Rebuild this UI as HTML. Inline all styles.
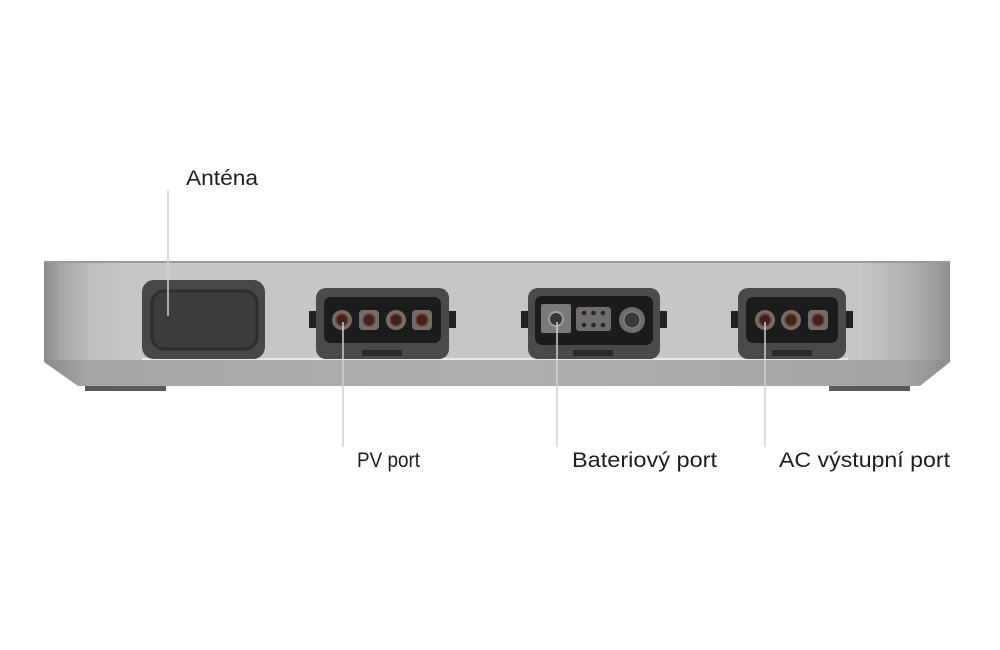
<!DOCTYPE html>
<html><head><meta charset="utf-8"><style>
html,body{margin:0;padding:0;background:#fff;}
svg{display:block}
text{font-family:"Liberation Sans","DejaVu Sans",sans-serif;fill:#1e1e1e;}
</style></head><body>
<svg width="1000" height="650" viewBox="0 0 1000 650" xmlns="http://www.w3.org/2000/svg">
<defs>
<linearGradient id="body" x1="0" x2="1" y1="0" y2="0">
<stop offset="0" stop-color="#8a8a8a"/><stop offset="0.02" stop-color="#a8a8a8"/><stop offset="0.05" stop-color="#bdbdbd"/><stop offset="0.09" stop-color="#c6c6c6"/>
<stop offset="0.9" stop-color="#c6c6c6"/><stop offset="0.95" stop-color="#b4b4b4"/><stop offset="0.98" stop-color="#a0a0a0"/><stop offset="1" stop-color="#8e8e8e"/>
</linearGradient>
<linearGradient id="low" x1="0" x2="1" y1="0" y2="0">
<stop offset="0" stop-color="#8a8a8a"/><stop offset="0.05" stop-color="#a6a6a6"/><stop offset="0.5" stop-color="#b0b0b0"/><stop offset="0.95" stop-color="#a4a4a4"/><stop offset="1" stop-color="#8c8c8c"/>
</linearGradient>
</defs>
<!-- feet -->
<rect x="85" y="383" width="81" height="8" fill="#5a5a5a"/>
<rect x="829" y="383" width="81" height="8" fill="#5a5a5a"/>
<!-- body -->
<path d="M44 262 H950 V362 L920 386 H78 L44 362 Z" fill="url(#low)"/>
<rect x="44" y="262" width="906" height="98" fill="url(#body)"/>
<rect x="44" y="261" width="906" height="2" fill="#9a9a9a"/>
<rect x="142" y="358" width="706" height="2" fill="#e8e8e8"/>
<!-- antenna -->
<rect x="142" y="280" width="123" height="79" rx="12" fill="#474747"/>
<rect x="152" y="291" width="105" height="58" rx="12" fill="#3d3d3d" stroke="#2e2e2e" stroke-width="3"/>
<!-- PV -->
<rect x="309" y="311" width="8" height="17" fill="#222"/><rect x="448" y="311" width="8" height="17" fill="#222"/>
<rect x="316" y="288" width="133" height="71" rx="10" fill="#4a4a4a"/>
<rect x="324" y="297" width="117" height="46" rx="7" fill="#1c1c1c"/>
<rect x="362" y="350" width="40" height="6" fill="#2a2a2a"/>
<circle cx="342" cy="320" r="10" fill="#6e6e6e"/><circle cx="342" cy="320" r="6" fill="#3a2620" stroke="#8a3a2a" stroke-width="1.5"/>
<rect x="359" y="310" width="20" height="20" rx="4" fill="#6e6e6e"/><circle cx="369" cy="320" r="6" fill="#3a2620" stroke="#8a3a2a" stroke-width="1.5"/>
<circle cx="396" cy="320" r="10" fill="#6e6e6e"/><circle cx="396" cy="320" r="6" fill="#3a2620" stroke="#8a3a2a" stroke-width="1.5"/>
<rect x="412" y="310" width="20" height="20" rx="4" fill="#6e6e6e"/><circle cx="422" cy="320" r="6" fill="#3a2620" stroke="#8a3a2a" stroke-width="1.5"/>
<!-- Battery -->
<rect x="521" y="311" width="8" height="17" fill="#222"/><rect x="659" y="311" width="8" height="17" fill="#222"/>
<rect x="528" y="288" width="132" height="71" rx="10" fill="#4a4a4a"/>
<rect x="535" y="296" width="118" height="49" rx="7" fill="#1c1c1c"/>
<rect x="573" y="350" width="40" height="6" fill="#2a2a2a"/>
<rect x="541" y="304" width="30" height="29" rx="2" fill="#7a7a7a"/>
<circle cx="556" cy="319" r="8" fill="#a0a0a0"/><circle cx="556" cy="319" r="6" fill="#3a3530"/>
<rect x="576" y="307" width="35" height="24" rx="3" fill="#6e6e6e"/>
<g fill="#3a2028"><circle cx="584" cy="313" r="2.3"/><circle cx="593.5" cy="313" r="2.3"/><circle cx="603" cy="313" r="2.3"/><circle cx="584" cy="325" r="2.3"/><circle cx="593.5" cy="325" r="2.3"/><circle cx="603" cy="325" r="2.3"/></g>
<circle cx="632" cy="320" r="13" fill="#6e6e6e"/><circle cx="632" cy="320" r="8" fill="#3c3834" stroke="#8a8a8a" stroke-width="1"/>
<!-- AC -->
<rect x="731" y="311" width="8" height="17" fill="#222"/><rect x="845" y="311" width="8" height="17" fill="#222"/>
<rect x="738" y="288" width="108" height="71" rx="10" fill="#4a4a4a"/>
<rect x="746" y="297" width="92" height="46" rx="7" fill="#1c1c1c"/>
<rect x="772" y="350" width="40" height="6" fill="#2a2a2a"/>
<circle cx="765" cy="320" r="10" fill="#6e6e6e"/><circle cx="765" cy="320" r="6" fill="#3a2620" stroke="#8a3a2a" stroke-width="1.5"/>
<circle cx="791" cy="320" r="10" fill="#6e6e6e"/><circle cx="791" cy="320" r="6" fill="#3a2620" stroke="#8a3a2a" stroke-width="1.5"/>
<rect x="808" y="310" width="20" height="20" rx="4" fill="#6e6e6e"/><circle cx="818" cy="320" r="6" fill="#3a2620" stroke="#8a3a2a" stroke-width="1.5"/>
<!-- leader lines -->
<g stroke="#d0d0d0" stroke-width="1.5">
<line x1="168" y1="190" x2="168" y2="316"/>
<line x1="343" y1="322" x2="343" y2="447"/>
<line x1="557" y1="322" x2="557" y2="447"/>
<line x1="765" y1="322" x2="765" y2="447"/>
</g>
<!-- labels -->
<text x="186" y="185" font-size="21" textLength="72" lengthAdjust="spacingAndGlyphs">Anténa</text>
<text x="357" y="467" font-size="21" textLength="63" lengthAdjust="spacingAndGlyphs">PV port</text>
<text x="572" y="467" font-size="21" textLength="145" lengthAdjust="spacingAndGlyphs">Bateriový port</text>
<text x="779" y="467" font-size="21" textLength="171" lengthAdjust="spacingAndGlyphs">AC výstupní port</text>
</svg>
</body></html>
